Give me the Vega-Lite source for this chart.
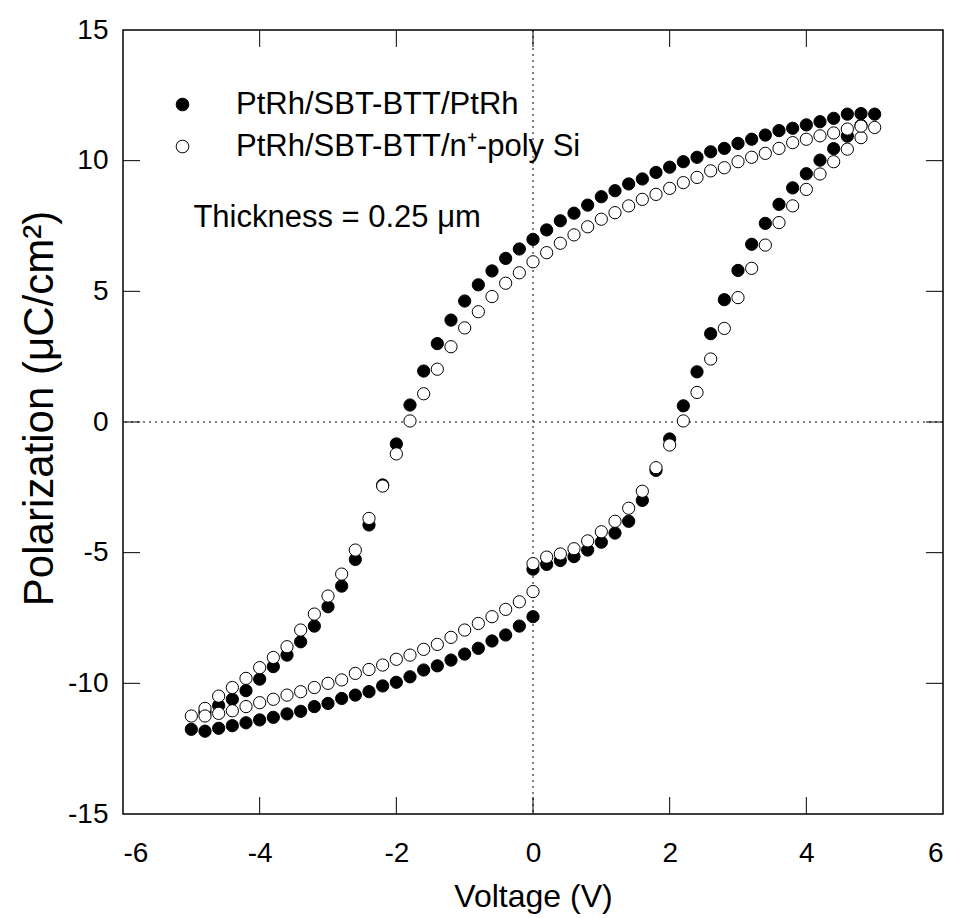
{
  "$schema": "https://vega.github.io/schema/vega-lite/v6.json",
  "autosize": "none",
  "width": 820,
  "height": 784,
  "padding": {"left": 123, "top": 30, "right": 13, "bottom": 104},
  "background": "white",
  "config": {
    "font": "Liberation Sans",
    "view": {"stroke": "black", "strokeWidth": 1.5},
    "axis": {"domain": false, "ticks": false, "tickSize": 0, "grid": false, "labelColor": "black", "titleColor": "black", "labelFont": "Liberation Sans", "titleFont": "Liberation Sans", "titleFontWeight": "normal"}
  },
  "datasets": {
    "xt": [{"t": -4}, {"t": -2}, {"t": 0}, {"t": 2}, {"t": 4}],
    "yt": [{"t": -10}, {"t": -5}, {"t": 0}, {"t": 5}, {"t": 10}],
    "d": [
      {"V": 0.0, "P": -5.63, "series": "A"}, {"V": 0.2, "P": -5.45, "series": "A"}, {"V": 0.4, "P": -5.3, "series": "A"}, {"V": 0.6, "P": -5.15, "series": "A"}, {"V": 0.8, "P": -4.9, "series": "A"}, {"V": 1.0, "P": -4.6, "series": "A"}, {"V": 1.2, "P": -4.25, "series": "A"}, {"V": 1.4, "P": -3.8, "series": "A"}, {"V": 1.6, "P": -3.0, "series": "A"}, {"V": 1.8, "P": -1.85, "series": "A"},
      {"V": 2.0, "P": -0.65, "series": "A"}, {"V": 2.2, "P": 0.62, "series": "A"}, {"V": 2.4, "P": 1.92, "series": "A"}, {"V": 2.6, "P": 3.38, "series": "A"}, {"V": 2.8, "P": 4.68, "series": "A"}, {"V": 3.0, "P": 5.8, "series": "A"}, {"V": 3.2, "P": 6.8, "series": "A"}, {"V": 3.4, "P": 7.6, "series": "A"}, {"V": 3.6, "P": 8.33, "series": "A"}, {"V": 3.8, "P": 8.96, "series": "A"}, {"V": 4.0, "P": 9.5, "series": "A"}, {"V": 4.2, "P": 10.02, "series": "A"}, {"V": 4.4, "P": 10.46, "series": "A"}, {"V": 4.6, "P": 10.94, "series": "A"}, {"V": 4.8, "P": 11.35, "series": "A"}, {"V": 5.0, "P": 11.78, "series": "A"},
      {"V": 4.8, "P": 11.8, "series": "A"}, {"V": 4.6, "P": 11.78, "series": "A"}, {"V": 4.4, "P": 11.62, "series": "A"}, {"V": 4.2, "P": 11.49, "series": "A"}, {"V": 4.0, "P": 11.37, "series": "A"}, {"V": 3.8, "P": 11.24, "series": "A"}, {"V": 3.6, "P": 11.15, "series": "A"}, {"V": 3.4, "P": 10.98, "series": "A"}, {"V": 3.2, "P": 10.82, "series": "A"}, {"V": 3.0, "P": 10.66, "series": "A"}, {"V": 2.8, "P": 10.47, "series": "A"}, {"V": 2.6, "P": 10.34, "series": "A"}, {"V": 2.4, "P": 10.13, "series": "A"}, {"V": 2.2, "P": 9.96, "series": "A"}, {"V": 2.0, "P": 9.75, "series": "A"}, {"V": 1.8, "P": 9.55, "series": "A"}, {"V": 1.6, "P": 9.3, "series": "A"}, {"V": 1.4, "P": 9.11, "series": "A"}, {"V": 1.2, "P": 8.85, "series": "A"}, {"V": 1.0, "P": 8.62, "series": "A"}, {"V": 0.8, "P": 8.3, "series": "A"}, {"V": 0.6, "P": 7.99, "series": "A"}, {"V": 0.4, "P": 7.7, "series": "A"}, {"V": 0.2, "P": 7.35, "series": "A"}, {"V": 0.0, "P": 6.99, "series": "A"},
      {"V": -0.2, "P": 6.62, "series": "A"}, {"V": -0.4, "P": 6.26, "series": "A"}, {"V": -0.6, "P": 5.78, "series": "A"}, {"V": -0.8, "P": 5.25, "series": "A"}, {"V": -1.0, "P": 4.63, "series": "A"}, {"V": -1.2, "P": 3.9, "series": "A"}, {"V": -1.4, "P": 3.0, "series": "A"}, {"V": -1.6, "P": 1.95, "series": "A"}, {"V": -1.8, "P": 0.65, "series": "A"}, {"V": -2.0, "P": -0.84, "series": "A"}, {"V": -2.2, "P": -2.41, "series": "A"}, {"V": -2.4, "P": -3.94, "series": "A"}, {"V": -2.6, "P": -5.26, "series": "A"}, {"V": -2.8, "P": -6.28, "series": "A"}, {"V": -3.0, "P": -7.07, "series": "A"}, {"V": -3.2, "P": -7.81, "series": "A"}, {"V": -3.4, "P": -8.41, "series": "A"}, {"V": -3.6, "P": -8.92, "series": "A"}, {"V": -3.8, "P": -9.36, "series": "A"}, {"V": -4.0, "P": -9.84, "series": "A"}, {"V": -4.2, "P": -10.28, "series": "A"}, {"V": -4.4, "P": -10.61, "series": "A"}, {"V": -4.6, "P": -10.85, "series": "A"}, {"V": -4.8, "P": -11.1, "series": "A"}, {"V": -5.0, "P": -11.76, "series": "A"},
      {"V": -4.8, "P": -11.83, "series": "A"}, {"V": -4.6, "P": -11.72, "series": "A"}, {"V": -4.4, "P": -11.62, "series": "A"}, {"V": -4.2, "P": -11.51, "series": "A"}, {"V": -4.0, "P": -11.4, "series": "A"}, {"V": -3.8, "P": -11.3, "series": "A"}, {"V": -3.6, "P": -11.17, "series": "A"}, {"V": -3.4, "P": -11.07, "series": "A"}, {"V": -3.2, "P": -10.89, "series": "A"}, {"V": -3.0, "P": -10.77, "series": "A"}, {"V": -2.8, "P": -10.58, "series": "A"}, {"V": -2.6, "P": -10.45, "series": "A"}, {"V": -2.4, "P": -10.32, "series": "A"}, {"V": -2.2, "P": -10.1, "series": "A"}, {"V": -2.0, "P": -9.96, "series": "A"}, {"V": -1.8, "P": -9.75, "series": "A"}, {"V": -1.6, "P": -9.49, "series": "A"}, {"V": -1.4, "P": -9.33, "series": "A"}, {"V": -1.2, "P": -9.11, "series": "A"}, {"V": -1.0, "P": -8.88, "series": "A"}, {"V": -0.8, "P": -8.66, "series": "A"}, {"V": -0.6, "P": -8.38, "series": "A"}, {"V": -0.4, "P": -8.15, "series": "A"}, {"V": -0.2, "P": -7.81, "series": "A"}, {"V": 0.0, "P": -7.45, "series": "A"},

      {"V": 0.0, "P": -5.42, "series": "B"}, {"V": 0.2, "P": -5.17, "series": "B"}, {"V": 0.4, "P": -5.05, "series": "B"}, {"V": 0.6, "P": -4.85, "series": "B"}, {"V": 0.8, "P": -4.55, "series": "B"}, {"V": 1.0, "P": -4.2, "series": "B"}, {"V": 1.2, "P": -3.8, "series": "B"}, {"V": 1.4, "P": -3.3, "series": "B"}, {"V": 1.6, "P": -2.65, "series": "B"}, {"V": 1.8, "P": -1.75, "series": "B"},
      {"V": 2.0, "P": -0.88, "series": "B"}, {"V": 2.2, "P": 0.04, "series": "B"}, {"V": 2.4, "P": 1.13, "series": "B"}, {"V": 2.6, "P": 2.41, "series": "B"}, {"V": 2.8, "P": 3.58, "series": "B"}, {"V": 3.0, "P": 4.76, "series": "B"}, {"V": 3.2, "P": 5.88, "series": "B"}, {"V": 3.4, "P": 6.77, "series": "B"}, {"V": 3.6, "P": 7.63, "series": "B"}, {"V": 3.8, "P": 8.27, "series": "B"}, {"V": 4.0, "P": 8.9, "series": "B"}, {"V": 4.2, "P": 9.49, "series": "B"}, {"V": 4.4, "P": 9.96, "series": "B"}, {"V": 4.6, "P": 10.44, "series": "B"}, {"V": 4.8, "P": 10.88, "series": "B"}, {"V": 5.0, "P": 11.27, "series": "B"},
      {"V": 4.8, "P": 11.32, "series": "B"}, {"V": 4.6, "P": 11.21, "series": "B"}, {"V": 4.4, "P": 11.06, "series": "B"}, {"V": 4.2, "P": 10.95, "series": "B"}, {"V": 4.0, "P": 10.82, "series": "B"}, {"V": 3.8, "P": 10.69, "series": "B"}, {"V": 3.6, "P": 10.47, "series": "B"}, {"V": 3.4, "P": 10.28, "series": "B"}, {"V": 3.2, "P": 10.13, "series": "B"}, {"V": 3.0, "P": 9.96, "series": "B"}, {"V": 2.8, "P": 9.73, "series": "B"}, {"V": 2.6, "P": 9.61, "series": "B"}, {"V": 2.4, "P": 9.36, "series": "B"}, {"V": 2.2, "P": 9.16, "series": "B"}, {"V": 2.0, "P": 8.94, "series": "B"}, {"V": 1.8, "P": 8.71, "series": "B"}, {"V": 1.6, "P": 8.52, "series": "B"}, {"V": 1.4, "P": 8.27, "series": "B"}, {"V": 1.2, "P": 8.01, "series": "B"}, {"V": 1.0, "P": 7.76, "series": "B"}, {"V": 0.8, "P": 7.47, "series": "B"}, {"V": 0.6, "P": 7.16, "series": "B"}, {"V": 0.4, "P": 6.84, "series": "B"}, {"V": 0.2, "P": 6.48, "series": "B"}, {"V": 0.0, "P": 6.13, "series": "B"},
      {"V": -0.2, "P": 5.71, "series": "B"}, {"V": -0.4, "P": 5.31, "series": "B"}, {"V": -0.6, "P": 4.8, "series": "B"}, {"V": -0.8, "P": 4.22, "series": "B"}, {"V": -1.0, "P": 3.6, "series": "B"}, {"V": -1.2, "P": 2.88, "series": "B"}, {"V": -1.4, "P": 2.02, "series": "B"}, {"V": -1.6, "P": 1.08, "series": "B"}, {"V": -1.8, "P": 0.04, "series": "B"}, {"V": -2.0, "P": -1.22, "series": "B"}, {"V": -2.2, "P": -2.45, "series": "B"}, {"V": -2.4, "P": -3.69, "series": "B"}, {"V": -2.6, "P": -4.9, "series": "B"}, {"V": -2.8, "P": -5.82, "series": "B"}, {"V": -3.0, "P": -6.66, "series": "B"}, {"V": -3.2, "P": -7.35, "series": "B"}, {"V": -3.4, "P": -7.96, "series": "B"}, {"V": -3.6, "P": -8.6, "series": "B"}, {"V": -3.8, "P": -9.01, "series": "B"}, {"V": -4.0, "P": -9.4, "series": "B"}, {"V": -4.2, "P": -9.81, "series": "B"}, {"V": -4.4, "P": -10.16, "series": "B"}, {"V": -4.6, "P": -10.49, "series": "B"}, {"V": -4.8, "P": -10.96, "series": "B"}, {"V": -5.0, "P": -11.25, "series": "B"},
      {"V": -4.8, "P": -11.25, "series": "B"}, {"V": -4.6, "P": -11.15, "series": "B"}, {"V": -4.4, "P": -11.05, "series": "B"}, {"V": -4.2, "P": -10.89, "series": "B"}, {"V": -4.0, "P": -10.74, "series": "B"}, {"V": -3.8, "P": -10.61, "series": "B"}, {"V": -3.6, "P": -10.45, "series": "B"}, {"V": -3.4, "P": -10.32, "series": "B"}, {"V": -3.2, "P": -10.16, "series": "B"}, {"V": -3.0, "P": -10.0, "series": "B"}, {"V": -2.8, "P": -9.87, "series": "B"}, {"V": -2.6, "P": -9.62, "series": "B"}, {"V": -2.4, "P": -9.47, "series": "B"}, {"V": -2.2, "P": -9.3, "series": "B"}, {"V": -2.0, "P": -9.08, "series": "B"}, {"V": -1.8, "P": -8.92, "series": "B"}, {"V": -1.6, "P": -8.7, "series": "B"}, {"V": -1.4, "P": -8.51, "series": "B"}, {"V": -1.2, "P": -8.24, "series": "B"}, {"V": -1.0, "P": -7.96, "series": "B"}, {"V": -0.8, "P": -7.71, "series": "B"}, {"V": -0.6, "P": -7.45, "series": "B"}, {"V": -0.4, "P": -7.17, "series": "B"}, {"V": -0.2, "P": -6.88, "series": "B"}, {"V": 0.0, "P": -6.49, "series": "B"}
    ]
  },
  "layer": [
    {
      "data": {"values": [{}]},
      "mark": {"type": "rule", "color": "black", "strokeWidth": 1, "strokeDash": [2, 4]},
      "encoding": {
        "x": {"datum": 0, "type": "quantitative", "scale": {"domain": [-6, 6], "nice": false}, "axis": null}
      }
    },
    {
      "data": {"values": [{}]},
      "mark": {"type": "rule", "color": "black", "strokeWidth": 1, "strokeDash": [2, 4]},
      "encoding": {
        "y": {"datum": 0, "type": "quantitative", "scale": {"domain": [-15, 15], "nice": false}, "axis": null}
      }
    },
    {
      "data": {"name": "xt"},
      "mark": {"type": "rule", "color": "black", "strokeWidth": 1},
      "encoding": {
        "x": {"field": "t", "type": "quantitative", "scale": {"domain": [-6, 6], "nice": false}, "axis": null},
        "y": {"datum": -15, "type": "quantitative", "scale": {"domain": [-15, 15], "nice": false}, "axis": null},
        "y2": {"datum": -14.35}
      }
    },
    {
      "data": {"name": "xt"},
      "mark": {"type": "rule", "color": "black", "strokeWidth": 1},
      "encoding": {
        "x": {"field": "t", "type": "quantitative", "scale": {"domain": [-6, 6], "nice": false}, "axis": null},
        "y": {"datum": 15, "type": "quantitative", "scale": {"domain": [-15, 15], "nice": false}, "axis": null},
        "y2": {"datum": 14.35}
      }
    },
    {
      "data": {"name": "yt"},
      "mark": {"type": "rule", "color": "black", "strokeWidth": 1},
      "encoding": {
        "y": {"field": "t", "type": "quantitative", "scale": {"domain": [-15, 15], "nice": false}, "axis": null},
        "x": {"datum": -6, "type": "quantitative", "scale": {"domain": [-6, 6], "nice": false}, "axis": null},
        "x2": {"datum": -5.75}
      }
    },
    {
      "data": {"name": "yt"},
      "mark": {"type": "rule", "color": "black", "strokeWidth": 1},
      "encoding": {
        "y": {"field": "t", "type": "quantitative", "scale": {"domain": [-15, 15], "nice": false}, "axis": null},
        "x": {"datum": 6, "type": "quantitative", "scale": {"domain": [-6, 6], "nice": false}, "axis": null},
        "x2": {"datum": 5.75}
      }
    },
    {
      "data": {"name": "d"},
      "mark": {"type": "point", "shape": "circle", "filled": true, "stroke": "black", "strokeWidth": 1, "size": 150, "opacity": 1},
      "encoding": {
        "x": {"field": "V", "type": "quantitative", "scale": {"domain": [-6, 6], "nice": false},
              "axis": {"orient": "bottom", "values": [-6, -4, -2, 0, 2, 4, 6], "labelExpr": "datum.value", "labelFontSize": 28, "labelPadding": 25, "title": "Voltage (V)", "titleFontSize": 32, "titlePadding": 14}},
        "y": {"field": "P", "type": "quantitative", "scale": {"domain": [-15, 15], "nice": false},
              "axis": {"orient": "left", "values": [-15, -10, -5, 0, 5, 10, 15], "labelExpr": "datum.value", "labelFontSize": 28, "labelPadding": 15, "title": "Polarization (μC/cm²)", "titleFontSize": 42, "titlePadding": 6, "titleY": 378}},
        "fill": {"field": "series", "type": "nominal",
                 "scale": {"domain": ["A", "B"], "range": ["black", "white"]},
                 "legend": {"orient": "none", "legendX": 44, "legendY": 59, "title": null,
                            "labelExpr": "datum.value == 'A' ? 'PtRh/SBT-BTT/PtRh' : 'PtRh/SBT-BTT/n⁺-poly Si'",
                            "labelFontSize": 31, "labelColor": "black", "labelFont": "Liberation Sans", "labelOffset": 38, "labelLimit": 600, "rowPadding": 10,
                            "symbolSize": 160, "symbolType": "circle", "symbolStrokeColor": "black", "symbolStrokeWidth": 1, "symbolOpacity": 1, "padding": 0}}
      }
    },
    {
      "data": {"values": [{"note": "Thickness = 0.25 μm"}]},
      "mark": {"type": "text", "align": "left", "baseline": "alphabetic", "fontSize": 31, "font": "Liberation Sans", "fill": "black"},
      "encoding": {
        "text": {"field": "note", "type": "nominal"},
        "x": {"datum": -4.97, "type": "quantitative", "scale": {"domain": [-6, 6], "nice": false}, "axis": null},
        "y": {"datum": 7.46, "type": "quantitative", "scale": {"domain": [-15, 15], "nice": false}, "axis": null}
      }
    }
  ],
  "resolve": {"axis": {"x": "independent", "y": "independent"}}
}
